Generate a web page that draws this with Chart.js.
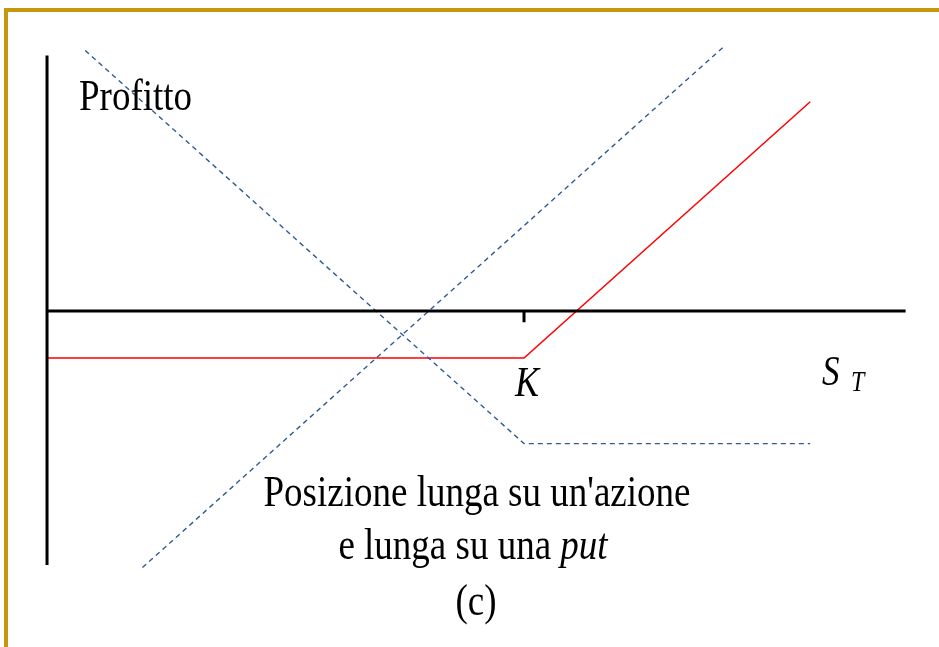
<!DOCTYPE html>
<html>
<head>
<meta charset="utf-8">
<script src="https://cdn.jsdelivr.net/npm/chart.js@4/dist/chart.umd.min.js"></script>
<style>
    html, body { margin: 0; padding: 0; background: #fff; }
    body { width: 939px; height: 647px; position: relative; overflow: hidden; }
    .frame {
        position: absolute; left: 4px; top: 8px; right: 0; bottom: 0;
        border-top: 4px solid #c8960a; border-left: 4px solid #c8960a;
    }
    #payoff { position: absolute; left: 0; top: 0; }
</style>
</head>
<body>
<div class="frame"></div>
<canvas id="payoff" width="939" height="647"></canvas>
<script>
// --- Data (S_T on x, profit on y) ---
const strikeK = 50;
const stockPrice0 = 40;
const putPremium = 15.5;

// long stock + long put (red)
const totalX = [0, 50, 80];
const totalY = [-5.5, -5.5, 24.5];
// long put (dashed)
const putX = [4, 50, 80];
const putY = [30.5, -15.5, -15.5];
// long stock (dashed)
const stockX = [10, 71];
const stockY = [-30, 31];

// axes
const profitAxisX = [0, 0];
const profitAxisY = [29.9, -29.7];
const priceAxisX = [0, 90];
const priceAxisY = [0, 0];
const tickX = [strikeK, strikeK];
const tickY = [0, -1.3];

const toPoints = (xs, ys) => xs.map((x, i) => ({ x, y: ys[i] }));

const blue = '#2f5a94';

const lineSet = (xs, ys, color, width, dash) => ({
    data: toPoints(xs, ys),
    borderColor: color,
    borderWidth: width,
    borderDash: dash || [],
    pointRadius: 0,
    fill: false,
    tension: 0
});

// --- Text labels drawn on the canvas ---
const labelsPlugin = {
    id: 'labels',
    afterDraw(chart) {
        const c = chart.ctx;
        const serif = '"Liberation Serif", "Times New Roman", serif';
        c.save();
        c.fillStyle = '#000';
        c.textBaseline = 'alphabetic';

        const put = (text, x, y, size, italic, align) => {
            c.save();
            c.translate(x, y);
            c.scale(1, 1.2);
            c.font = (italic ? 'italic ' : '') + size + 'px ' + serif;
            c.textAlign = align || 'left';
            c.fillText(text, 0, 0);
            c.restore();
        };

        put('Profitto', 79, 110, 37, false);
        put('K', chart.scales.x.getPixelForValue(strikeK) + 3, 396, 36, true, 'center');
        put('S', 822, 385, 35, true);
        put('T', 851, 391, 24, true);

        put("Posizione lunga su un'azione", 477, 506, 37, false, 'center');

        // second line: mixed upright + italic
        c.font = '37px ' + serif;
        const a = 'e lunga su una ';
        const wa = c.measureText(a).width;
        c.font = 'italic 37px ' + serif;
        const wb = c.measureText('put').width;
        const start = 473 - (wa + wb) / 2;
        put(a, start, 559, 37, false);
        put('put', start + wa, 559, 37, true);

        put('(c)', 476, 615, 37, false, 'center');
        c.restore();
    }
};

new Chart(document.getElementById('payoff'), {
    type: 'line',
    data: {
        datasets: [
            lineSet(profitAxisX, profitAxisY, '#000', 3),
            lineSet(priceAxisX, priceAxisY, '#000', 3),
            lineSet(tickX, tickY, '#000', 3),
            lineSet(putX, putY, blue, 1.4, [5, 4]),
            lineSet(stockX, stockY, blue, 1.4, [5, 4]),
            lineSet(totalX, totalY, '#ff0000', 1.5)
        ]
    },
    options: {
        responsive: false,
        animation: false,
        layout: { padding: 0 },
        plugins: {
            legend: { display: false },
            tooltip: { enabled: false },
            title: { display: false }
        },
        scales: {
            x: { type: 'linear', display: false, min: -4.93, max: 93.5 },
            y: { type: 'linear', display: false, min: -39.3, max: 36.4 }
        }
    },
    plugins: [labelsPlugin]
});
</script>
</body>
</html>
